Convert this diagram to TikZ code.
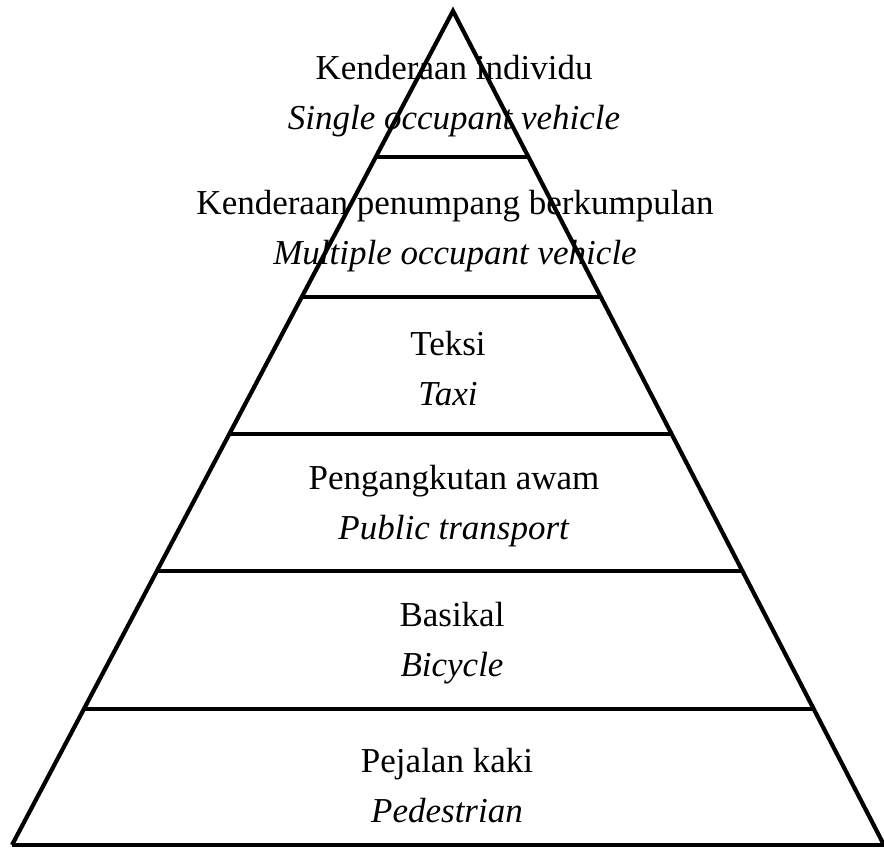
\documentclass[tikz,border=0pt]{standalone}
\usepackage{fontspec}
\setmainfont{Liberation Serif}
\tikzset{
  tier/.style={align=center, font=\fontsize{35}{50}\selectfont, inner sep=0pt},
  edge/.style={line width=4.2pt, line join=miter}
}

\begin{document}
\begin{tikzpicture}[x=1pt, y=-1pt]
  \useasboundingbox (0,0) rectangle (884,847);
  %piramid
  \coordinate (apex) at (453,11);
  \coordinate (bl) at (12,845);
  \coordinate (br) at (884,845);
  \draw[edge] (bl) -- (apex) -- (br);
  \draw[edge] (bl) -- (br);
  %garis lapisan
  \foreach \h in {157,297,434,571,709}
    \draw[edge] (intersection of apex--bl and 0,\h--1,\h) -- (intersection of apex--br and 0,\h--1,\h);
  %teks
  \node[tier] (single) at (454,96) {Kenderaan individu\\\textit{Single occupant vehicle}};
  \node[tier] (multi) at (455,231) {Kenderaan penumpang berkumpulan\\\textit{Multiple occupant vehicle}};
  \node[tier] (taxi) at (448,369) {Teksi\\\textit{Taxi}};
  \node[tier] (public) at (454,506) {Pengangkutan awam\\\textit{Public transport}};
  \node[tier] (bike) at (452,643) {Basikal\\\textit{Bicycle}};
  \node[tier] (walk) at (447,786) {Pejalan kaki\\\textit{Pedestrian}};
\end{tikzpicture}
\end{document}
